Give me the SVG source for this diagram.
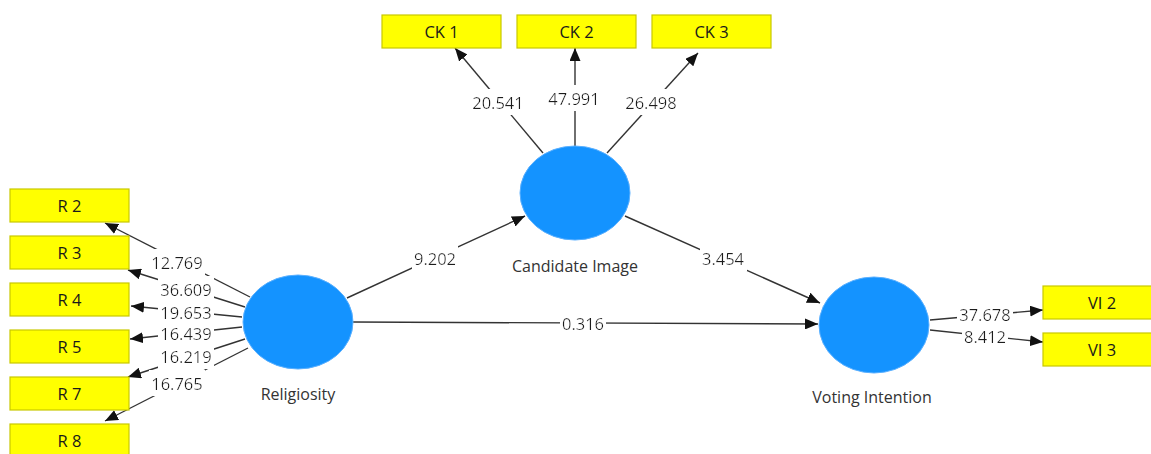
<svg xmlns="http://www.w3.org/2000/svg" width="1151" height="454" viewBox="0 0 1151 454">
<style>
.box{fill:#FFFF00;stroke:#C8C800;stroke-width:1.2}
.lv{fill:#1493FF;stroke:#5AB0FF;stroke-width:1}
.bt{font-family:"Open Sans","Noto Sans",sans-serif;font-size:16.5px;fill:#1a1a1a;text-anchor:middle;dominant-baseline:central}
.nl{font-family:"Open Sans","Noto Sans",sans-serif;font-size:16px;fill:#333;text-anchor:middle;dominant-baseline:central}
.el{font-family:"Open Sans","Noto Sans",sans-serif;font-size:16.5px;fill:#1a1a1a;text-anchor:middle;dominant-baseline:central}
.ln{stroke:#333;stroke-width:1.4;fill:none;marker-end:url(#ah)}
</style>
<defs>
<marker id="ah" markerUnits="userSpaceOnUse" markerWidth="13" markerHeight="11" refX="13" refY="5.5" orient="auto">
<path d="M0,0 L13,5.5 L0,11 z" fill="#111"/>
</marker>
<filter id="bg" x="-0.04" y="-0.05" width="1.08" height="1.1">
<feFlood flood-color="#fff"/>
<feComposite in="SourceGraphic"/>
</filter>
</defs>
<rect width="1151" height="454" fill="#fff"/>
<g id="connectors">
<line class="ln" x1="250" y1="297" x2="105" y2="223"/>
<line class="ln" x1="245" y1="307" x2="128" y2="270"/>
<line class="ln" x1="242" y1="317" x2="131" y2="306"/>
<line class="ln" x1="242" y1="327" x2="130" y2="339"/>
<line class="ln" x1="245" y1="339" x2="128" y2="377"/>
<line class="ln" x1="248" y1="348" x2="105" y2="421"/>
<line class="ln" x1="543" y1="153" x2="455" y2="48"/>
<line class="ln" x1="575" y1="146" x2="575" y2="48"/>
<line class="ln" x1="607" y1="153" x2="698" y2="53"/>
<line class="ln" x1="347" y1="298" x2="525" y2="216"/>
<line class="ln" x1="625" y1="216" x2="820" y2="303"/>
<line class="ln" x1="353" y1="322" x2="818" y2="324"/>
<line class="ln" x1="930" y1="320" x2="1043" y2="310"/>
<line class="ln" x1="930" y1="330" x2="1043" y2="342"/>
<text class="el" filter="url(#bg)" x="177" y="262">12.769</text>
<text class="el" filter="url(#bg)" x="186" y="289">36.609</text>
<text class="el" filter="url(#bg)" x="186" y="312">19.653</text>
<text class="el" filter="url(#bg)" x="186" y="333">16.439</text>
<text class="el" filter="url(#bg)" x="186" y="356">16.219</text>
<text class="el" filter="url(#bg)" x="177" y="383">16.765</text>
<text class="el" filter="url(#bg)" x="498" y="102">20.541</text>
<text class="el" filter="url(#bg)" x="574" y="98">47.991</text>
<text class="el" filter="url(#bg)" x="651" y="102">26.498</text>
<text class="el" filter="url(#bg)" x="435" y="258">9.202</text>
<text class="el" filter="url(#bg)" x="723" y="258">3.454</text>
<text class="el" filter="url(#bg)" x="583" y="323">0.316</text>
<text class="el" filter="url(#bg)" x="985" y="314">37.678</text>
<text class="el" filter="url(#bg)" x="985" y="336">8.412</text>
</g>
<g id="R2"><rect class="box" x="10" y="189" width="119" height="33"/><text class="bt" x="69.5" y="205.5">R 2</text></g>
<g id="R3"><rect class="box" x="10" y="236" width="119" height="33"/><text class="bt" x="69.5" y="252.5">R 3</text></g>
<g id="R4"><rect class="box" x="10" y="283" width="119" height="33"/><text class="bt" x="69.5" y="299.5">R 4</text></g>
<g id="R5"><rect class="box" x="10" y="330" width="119" height="33"/><text class="bt" x="69.5" y="346.5">R 5</text></g>
<g id="R7"><rect class="box" x="10" y="377" width="119" height="33"/><text class="bt" x="69.5" y="393.5">R 7</text></g>
<g id="R8"><rect class="box" x="10" y="424" width="119" height="33"/><text class="bt" x="69.5" y="440.5">R 8</text></g>
<g id="CK1"><rect class="box" x="382" y="15" width="119" height="33"/><text class="bt" x="441.5" y="31.5">CK 1</text></g>
<g id="CK2"><rect class="box" x="517" y="15" width="119" height="33"/><text class="bt" x="576.5" y="31.5">CK 2</text></g>
<g id="CK3"><rect class="box" x="652" y="15" width="119" height="33"/><text class="bt" x="711.5" y="31.5">CK 3</text></g>
<g id="VI2"><rect class="box" x="1043" y="286" width="119" height="33"/><text class="bt" x="1102" y="302.5">VI 2</text></g>
<g id="VI3"><rect class="box" x="1043" y="333" width="119" height="33"/><text class="bt" x="1102" y="349.5">VI 3</text></g>
<g id="Religiosity"><ellipse class="lv" cx="298" cy="322" rx="55" ry="47"/><text class="nl" x="298" y="394">Religiosity</text></g>
<g id="CandidateImage"><ellipse class="lv" cx="575" cy="193" rx="55" ry="47"/><text class="nl" x="575" y="266">Candidate Image</text></g>
<g id="VotingIntention"><ellipse class="lv" cx="874" cy="325" rx="55" ry="48"/><text class="nl" x="872" y="397">Voting Intention</text></g>
</svg>
